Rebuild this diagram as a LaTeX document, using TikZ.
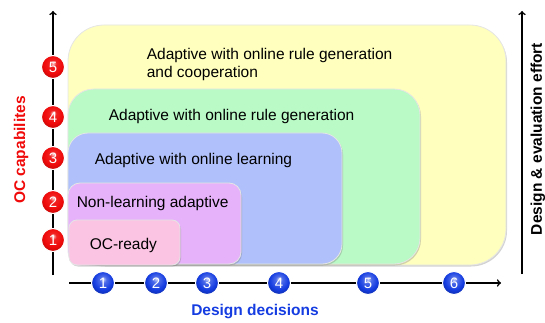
\documentclass[tikz,border=0pt]{standalone}
\usepackage{fontspec}
\setmainfont{Liberation Sans}
\usetikzlibrary{arrows}
\usetikzlibrary{shadows}

\definecolor{boxyellow}{RGB}{255,255,190}
\definecolor{boxgreen}{RGB}{185,250,198}
\definecolor{boxblue}{RGB}{176,192,250}
\definecolor{boxpurple}{RGB}{230,178,250}
\definecolor{boxpink}{RGB}{250,196,226}
\definecolor{capred}{RGB}{240,10,10}
\definecolor{decblue}{RGB}{20,60,225}

\pgfdeclareradialshading{redgloss}{\pgfpoint{0bp}{9bp}}{%
  color(0bp)=(white!85!capred); color(7bp)=(capred!90!white); color(20bp)=(capred);
  color(32bp)=(capred!75!black); color(50bp)=(capred!75!black)}
\pgfdeclareradialshading{bluegloss}{\pgfpoint{0bp}{9bp}}{%
  color(0bp)=(white!80!decblue); color(7bp)=(decblue!75!white); color(20bp)=(decblue);
  color(32bp)=(decblue!70!black); color(50bp)=(decblue!70!black)}

\begin{document}
\begin{tikzpicture}[x=1pt,y=-1pt,
        >=to,
        line width=1.6pt,
        every node/.style={font=\fontsize{15.5}{18}\selectfont},
        layer/.style={draw=white!80!gray,line width=0.8pt,drop shadow={shadow xshift=1pt,shadow yshift=-1.5pt,opacity=0.35}},
        redball/.style={circle,minimum size=23pt,inner sep=0pt,draw=white,line width=1pt,shading=redgloss,text=white,font=\fontsize{15}{15}\selectfont},
        blueball/.style={redball,shading=bluegloss},
        axislabel/.style={font=\bfseries\fontsize{15.5}{18}\selectfont}]

      \useasboundingbox (0,0) rectangle (545,323);

      % nested levels
      \fill[layer,fill=boxyellow,rounded corners=36pt] (68,25) rectangle (506,265);
      \fill[layer,fill=boxgreen,rounded corners=26pt]  (68,89) rectangle (420,264);
      \fill[layer,fill=boxblue,rounded corners=20pt]   (68,133) rectangle (342,264);
      \fill[layer,fill=boxpurple,rounded corners=12pt] (68,183) rectangle (241,264);
      \fill[layer,fill=boxpink,rounded corners=8pt]    (69,220) rectangle (180,265);

      \node[anchor=west,align=left,inner sep=0pt] (l5) at (146,64) {Adaptive with online rule generation\\and cooperation};
      \node[anchor=west,inner sep=0pt] (l4) at (108,116) {Adaptive with online rule generation};
      \node[anchor=west,inner sep=0pt] (l3) at (94,160) {Adaptive with online learning};
      \node[anchor=west,inner sep=0pt] (l2) at (76,203) {Non-learning adaptive};
      \node[anchor=west,inner sep=0pt] (l1) at (89,245) {OC-ready};

      % axes
      \coordinate (ybot) at (53,275);
      \coordinate (ytop) at (53,11);
      \coordinate (xleft) at (69,283);
      \coordinate (xright) at (501,283);
      \coordinate (ebot) at (522,274);
      \coordinate (etop) at (522,11);

      \draw[->] (ybot) -- (ytop);
      \draw[->] (xleft) -- (xright);
      \draw[->] (ebot) -- (etop);

      \foreach \n/\y in {1/240,2/202,3/158,4/117,5/67}
        \node[redball] (c\n) at (53,\y) {\n};

      \foreach \n/\x in {1/103,2/156,3/207,4/279,5/368,6/454}
        \node[blueball] (d\n) at (\x,283) {\n};

      \node[axislabel,text=capred,rotate=90] (caplabel) at (21,150) {OC capabilites};
      \node[axislabel,text=decblue] (declabel) at (255,312) {Design decisions};
      \node[axislabel,rotate=90] (efflabel) at (538,139) {Design \& evaluation effort};

\end{tikzpicture}
\end{document}
